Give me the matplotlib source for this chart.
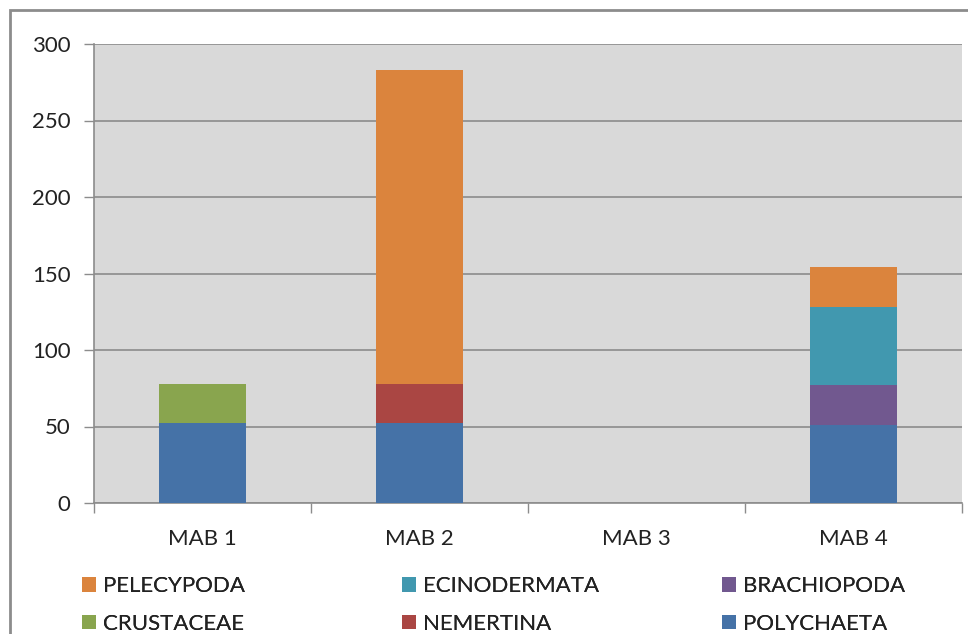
import numpy as np
import matplotlib.pyplot as plt
from matplotlib.patches import Rectangle, Patch

plt.rcParams['font.family'] = ['Lato', 'DejaVu Sans']

sites = ['MAB 1', 'MAB 2', 'MAB 3', 'MAB 4']
polychaeta = [52, 52, 0, 51]
nemertina = [0, 26, 0, 0]
crustaceae = [26, 0, 0, 0]
brachiopoda = [0, 0, 0, 26]
ecinodermata = [0, 0, 0, 51]
pelecypoda = [0, 205, 0, 26]

series = [
    ('POLYCHAETA', polychaeta, '#4572A7'),
    ('NEMERTINA', nemertina, '#AA4643'),
    ('CRUSTACEAE', crustaceae, '#89A54E'),
    ('BRACHIOPODA', brachiopoda, '#71588F'),
    ('ECINODERMATA', ecinodermata, '#4198AF'),
    ('PELECYPODA', pelecypoda, '#DB843D'),
]

fig = plt.figure(figsize=(9.68, 6.34), dpi=100)
ax = fig.add_axes([94 / 968, 131 / 634, 868 / 968, 459 / 634])
ax.set_facecolor('#D9D9D9')

x = np.arange(len(sites))
bottom = np.zeros(len(sites))
colors = {}
for name, vals, col in series:
    vals = np.array(vals, dtype=float)
    ax.bar(x, vals, 0.4, bottom=bottom, color=col, edgecolor='none', zorder=3)
    bottom += vals
    colors[name] = col

ax.set_xlim(-0.5, 3.5)
ax.set_ylim(0, 300)
ax.set_yticks(range(0, 301, 50))
ax.yaxis.grid(True, color='#8C8C8C', linewidth=1.2, zorder=1)
ax.set_axisbelow(True)

ax.set_xticks(x)
ax.set_xticklabels(sites)
ax.set_xticks(np.arange(-0.5, 3.6, 1), minor=True)
ax.tick_params(axis='x', which='major', length=0, pad=19, labelsize=16, colors='#222222')
ax.tick_params(axis='x', which='minor', length=7, width=1, color='#8C8C8C', direction='out')
ax.tick_params(axis='y', length=7, width=1, color='#8C8C8C', pad=10, labelsize=16, labelcolor='#222222')

for s in ['top', 'right']:
    ax.spines[s].set_visible(False)
for s in ['left', 'bottom']:
    ax.spines[s].set_color('#8C8C8C')
    ax.spines[s].set_linewidth(1.2)

# legend: three columns, two rows, placed one column at a time
columns = [['PELECYPODA', 'CRUSTACEAE'],
           ['ECINODERMATA', 'NEMERTINA'],
           ['BRACHIOPODA', 'POLYCHAETA']]
col_x = [82, 402, 722]
for cx, names in zip(col_x, columns):
    handles = [Patch(facecolor=colors[n], edgecolor='none', label=n) for n in names]
    leg = fig.legend(handles=handles, loc='upper left',
                     bbox_to_anchor=(cx / 968, 1 - 576 / 634),
                     ncol=1, frameon=False, fontsize=16, handlelength=0.65,
                     handleheight=0.65, handletextpad=0.28, labelspacing=0.8,
                     borderpad=0, borderaxespad=0, labelcolor='#222222')
    fig.add_artist(leg)

# outer chart border
fig.patches.append(Rectangle((10 / 968, -0.05), 1.0, 1 - 10 / 634 + 0.05,
                             transform=fig.transFigure, fill=False,
                             edgecolor='#8C8C8C', linewidth=2))

fig.savefig('out.png', dpi=100)
